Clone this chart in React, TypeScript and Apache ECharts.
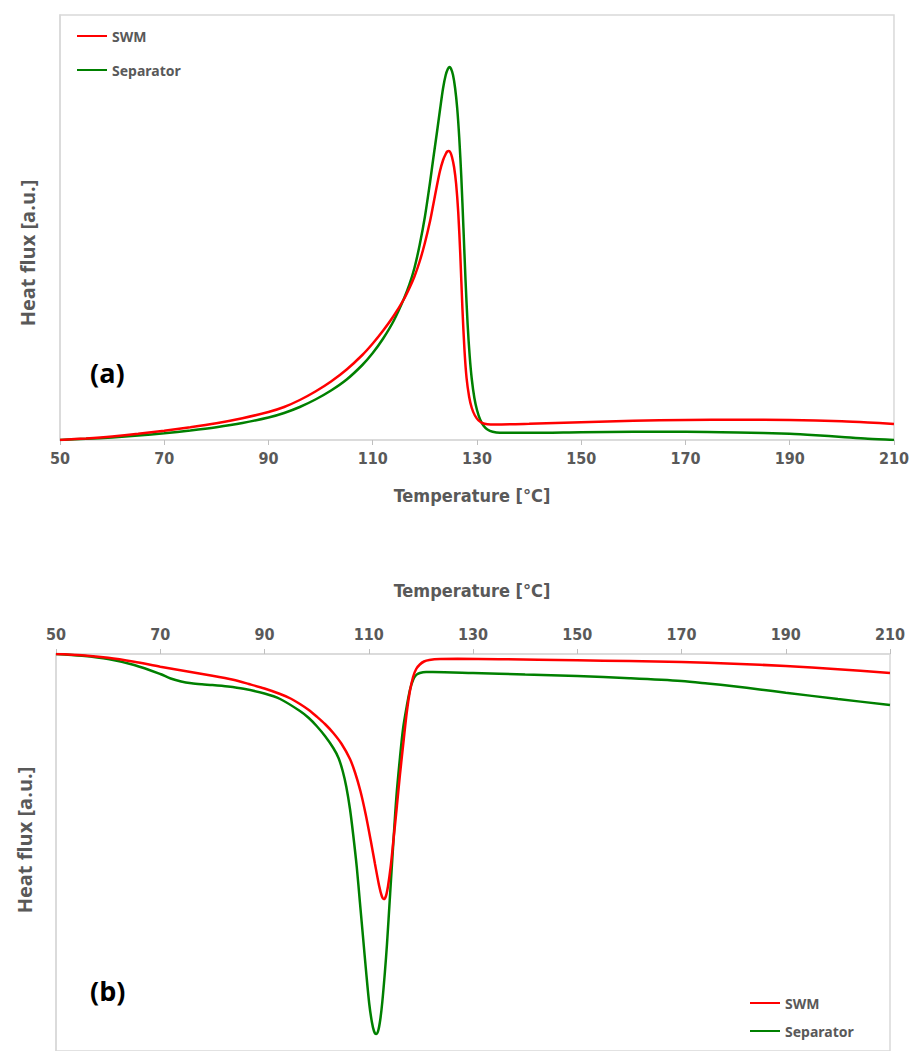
import React, { useEffect, useRef } from "react";
import * as echarts from "echarts";

// Panel (a): heating curve, [temperature °C, heat flux a.u.]
const aSWM: [number, number][] = [
  [50, 0], [55, 1.6], [60, 3.6], [65, 6.2], [70, 9.3], [75, 12.8], [80, 16.8], [85, 21.8],
  [90, 28], [93, 33], [96, 40], [99, 48.5], [102, 58.5], [105, 70.5], [108, 85], [110, 96.5],
  [112, 109.5], [114, 124], [116, 141], [117, 151.5], [118, 163.5], [119, 178.5], [120, 197],
  [121, 219], [121.6, 235], [122.3, 254], [122.9, 269], [123.5, 280], [124, 286], [124.3, 288.5],
  [124.6, 289], [124.9, 287.5], [125.2, 283], [125.6, 273], [126, 256], [126.4, 228], [126.8, 185],
  [127.2, 132], [127.6, 90], [128, 62], [128.5, 43], [129, 32], [129.6, 24.5], [130.3, 19.5],
  [131, 17], [132, 15.8], [133.5, 15.5], [140, 16.2], [150, 17.8], [160, 19.2], [170, 20],
  [180, 20.3], [190, 20], [200, 18.8], [205, 17.6], [210, 16],
];
const aSeparator: [number, number][] = [
  [50, 0], [55, 1.2], [60, 2.6], [65, 4.4], [70, 6.7], [75, 9.5], [80, 12.8], [85, 17],
  [90, 22.5], [93, 27], [96, 33], [99, 40.5], [102, 49.5], [105, 60.5], [108, 75], [110, 87],
  [112, 101.5], [114, 119], [116, 141.5], [117, 155], [118, 172], [119, 195], [120, 223],
  [121, 258], [121.6, 281], [122.3, 307], [122.9, 330], [123.5, 352], [124, 365], [124.4, 371],
  [124.7, 373], [125, 371.5], [125.4, 365], [125.8, 352], [126.2, 332], [126.6, 302], [127, 262],
  [127.4, 212], [127.8, 160], [128.2, 116], [128.6, 84], [129, 61], [129.5, 42], [130, 30],
  [130.6, 20.5], [131.3, 14], [132, 10.5], [133, 8.2], [134.4, 7.2], [140, 7.2], [150, 7.8],
  [160, 8.3], [170, 8.3], [180, 7.6], [190, 6.2], [195, 4.8], [200, 3], [205, 1.2], [210, 0],
];

// Panel (b): cooling curve
const bSWM: [number, number][] = [
  [50, 0], [55, -1.3], [60, -3.8], [65, -7.8], [70, -12.7], [75, -17.2], [80, -21.7], [84, -25.8],
  [87, -30], [90, -34.5], [93, -40], [95, -44.5], [96.8, -50], [98.5, -56], [100, -62.5],
  [101.6, -70], [103.2, -79], [104.8, -90], [106.4, -105], [107.4, -119], [108.4, -137],
  [109.4, -160], [110.4, -187], [111.2, -210], [112, -232], [112.5, -242], [112.9, -245],
  [113.3, -242], [113.7, -232], [114.2, -213], [114.7, -188], [115.4, -152], [116, -120],
  [116.7, -86], [117.3, -58], [117.9, -37], [118.5, -23], [119.1, -15], [119.8, -10.5],
  [120.6, -7.5], [121.6, -6], [123.7, -5], [127, -4.8], [135, -5.2], [150, -6.3], [160, -7],
  [170, -8], [180, -9.7], [190, -12], [200, -15.2], [210, -19],
];
const bSeparator: [number, number][] = [
  [50, 0], [55, -1.8], [60, -5], [65, -11], [70, -20], [72, -24.5], [74, -27.5], [76, -29.3],
  [78, -30.3], [80, -31], [83, -32.5], [86, -34.8], [90, -39.5], [93, -45], [96.8, -57],
  [98.5, -64], [100, -72], [101.6, -82], [103.2, -94], [104.2, -104], [105, -117], [105.7, -133],
  [106.4, -155], [107, -180], [107.7, -213], [108.3, -248], [108.9, -283], [109.5, -318],
  [110.1, -350], [110.6, -368], [111, -377], [111.4, -380], [111.8, -377], [112.2, -366],
  [112.6, -348], [113.1, -318], [113.5, -290], [114.1, -240], [114.7, -190], [115.3, -143],
  [116, -103], [116.6, -74], [117.3, -52], [117.9, -36], [118.5, -26], [119.1, -21], [119.8, -19],
  [121, -18], [122.3, -18], [130, -19], [140, -20.5], [150, -22], [160, -24.2], [170, -27],
  [175, -29.5], [180, -32.3], [185, -35.4], [190, -38.7], [200, -45], [210, -51],
];

const seriesNames = ["SWM", "Separator"];
const colors = ["#ff0000", "#008000"];
const xMin = 50;
const xMax = 210;
const xStep = 20;
const xTitle = "Temperature [°C]";
const yTitle = "Heat flux [a.u.]";

export default function App() {
  const ref = useRef<HTMLDivElement>(null);
  useEffect(() => {
    if (!ref.current) return;
    const chart = echarts.init(ref.current, undefined, { renderer: "svg" });
    const gray = "#595959";
    const lineGray = "#d9d9d9";
    const tickFont = {
      color: gray,
      fontSize: 16,
      fontWeight: "bold" as const,
      fontFamily: "DejaVu Sans Condensed",
    };
    const xAxisBase = (gridIndex: number, position: "top" | "bottom") => ({
      type: "value" as const,
      gridIndex,
      position,
      min: xMin,
      max: xMax,
      interval: xStep,
      axisLine: { show: true, lineStyle: { color: lineGray, width: 1.5 } },
      axisTick: { show: true, length: 5, lineStyle: { color: "#bfbfbf", width: 1 } },
      axisLabel: { ...tickFont, margin: position === "top" ? 12 : 10 },
      splitLine: { show: false },
    });
    const yAxisBase = (gridIndex: number, min: number, max: number) => ({
      type: "value" as const,
      gridIndex,
      min,
      max,
      axisLine: { show: true, lineStyle: { color: lineGray, width: 1.5 } },
      axisTick: { show: false },
      axisLabel: { show: false },
      splitLine: { show: false },
    });
    const mk = (name: string, data: [number, number][], idx: number, color: string) => ({
      type: "line" as const,
      name,
      data,
      xAxisIndex: idx,
      yAxisIndex: idx,
      showSymbol: false,
      symbol: "none",
      smooth: 0.3,
      lineStyle: { color, width: 2.5 },
      itemStyle: { color },
      z: name === "SWM" ? 3 : 2,
    });
    const legendText = {
      color: gray,
      fontSize: 14,
      fontWeight: "bold" as const,
      fontFamily: "Noto Sans",
    };
    chart.setOption({
      animation: false,
      backgroundColor: "#ffffff",
      grid: [
        { left: 60, top: 15, width: 835, height: 425, show: true, borderColor: lineGray, borderWidth: 1.5, containLabel: false },
        { left: 56, top: 654, width: 834, height: 397, show: true, borderColor: lineGray, borderWidth: 1.5, containLabel: false },
      ],
      xAxis: [xAxisBase(0, "bottom"), xAxisBase(1, "top")],
      yAxis: [yAxisBase(0, 0, 425), yAxisBase(1, -397, 0)],
      legend: [
        {
          data: seriesNames,
          orient: "vertical",
          left: 77,
          top: 29,
          padding: 0,
          itemWidth: 30,
          itemHeight: 14,
          itemGap: 20,
          icon: "path://M0,6 L30,6 L30,8 L0,8 Z",
          textStyle: legendText,
        },
        {
          data: seriesNames,
          orient: "vertical",
          left: 750,
          top: 996,
          padding: 0,
          itemWidth: 30,
          itemHeight: 14,
          itemGap: 14,
          icon: "path://M0,6 L30,6 L30,8 L0,8 Z",
          textStyle: legendText,
        },
      ],
      series: [
        mk(seriesNames[0], aSWM, 0, colors[0]),
        mk(seriesNames[1], aSeparator, 0, colors[1]),
        mk(seriesNames[0], bSWM, 1, colors[0]),
        mk(seriesNames[1], bSeparator, 1, colors[1]),
      ],
      graphic: [
        {
          type: "text",
          x: 472,
          y: 495,
          style: { text: xTitle, fill: gray, fontSize: 18, fontWeight: "bold", fontFamily: "DejaVu Sans Condensed", textAlign: "center", textVerticalAlign: "middle" },
        },
        {
          type: "text",
          x: 472,
          y: 590,
          style: { text: xTitle, fill: gray, fontSize: 18, fontWeight: "bold", fontFamily: "DejaVu Sans Condensed", textAlign: "center", textVerticalAlign: "middle" },
        },
        {
          type: "text",
          x: 27,
          y: 253,
          rotation: Math.PI / 2,
          style: { text: yTitle, fill: gray, fontSize: 20, fontWeight: "bold", fontFamily: "Open Sans", textAlign: "center", textVerticalAlign: "middle" },
        },
        {
          type: "text",
          x: 24,
          y: 840,
          rotation: Math.PI / 2,
          style: { text: yTitle, fill: gray, fontSize: 20, fontWeight: "bold", fontFamily: "Open Sans", textAlign: "center", textVerticalAlign: "middle" },
        },
        {
          type: "text",
          x: 90,
          y: 372,
          style: { text: "(a)", fill: "#000000", fontSize: 27, fontWeight: "bold", fontFamily: "Open Sans", textAlign: "left", textVerticalAlign: "middle" },
        },
        {
          type: "text",
          x: 90,
          y: 990,
          style: { text: "(b)", fill: "#000000", fontSize: 27, fontWeight: "bold", fontFamily: "Open Sans", textAlign: "left", textVerticalAlign: "middle" },
        },
      ],
    });
    return () => chart.dispose();
  }, []);
  return (
    <div
      ref={ref}
      style={{ position: "absolute", left: 0, top: 0, width: 912, height: 1051, background: "#fff" }}
    />
  );
}
